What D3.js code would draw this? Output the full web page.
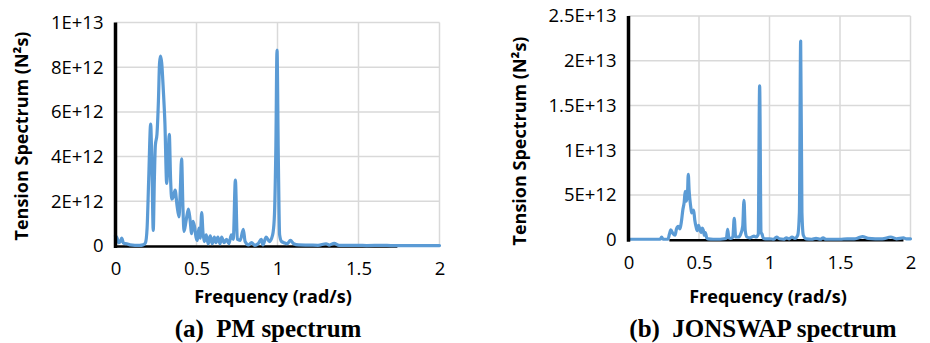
<!DOCTYPE html>
<html><head><meta charset="utf-8">
<script src="https://cdn.jsdelivr.net/npm/d3@7"></script>
<style>
body{margin:0;background:#fff;}
svg{display:block;}
.tick text{font-family:"Open Sans",sans-serif;}
</style></head>
<body>
<svg id="chart" width="930" height="343"></svg>
<script>
// ---- data (values in units of 1E+12 N²s) ----
const pmFreq = [0,0.01,0.02,0.03,0.038,0.05,0.07,0.09,0.12,0.15,0.17,0.185,0.195,0.205,0.217,0.225,0.233,0.24,0.246,0.256,0.265,0.272,0.278,0.285,0.295,0.305,0.316,0.324,0.332,0.34,0.347,0.357,0.368,0.38,0.392,0.4,0.408,0.416,0.423,0.435,0.45,0.46,0.47,0.478,0.487,0.497,0.505,0.515,0.523,0.532,0.54,0.548,0.56,0.572,0.585,0.597,0.61,0.62,0.632,0.645,0.655,0.67,0.685,0.7,0.715,0.727,0.74,0.752,0.77,0.789,0.8,0.82,0.84,0.86,0.88,0.9,0.91,0.93,0.95,0.97,0.98,0.99,0.997,1.005,1.013,1.025,1.04,1.06,1.08,1.1,1.13,1.2,1.25,1.3,1.32,1.35,1.38,1.45,1.5,1.55,1.65,1.7,1.8,2.0];
const pmValue = [0.45,0.35,0.15,0.2,0.35,0.12,0.1,0.05,0.03,0.03,0.05,0.15,0.8,3.0,5.45,3.5,0.7,3.0,4.5,5.0,6.5,8.2,8.5,8.2,7.0,5.5,2.8,3.8,5.0,3.0,2.1,2.2,2.5,1.8,1.3,2.5,3.9,1.8,0.65,1.1,1.65,1.2,0.55,1.1,0.9,0.4,0.25,0.8,0.35,1.5,0.6,0.2,0.5,0.1,0.45,0.1,0.4,0.15,0.4,0.1,0.4,0.15,0.3,0.1,0.5,0.3,2.95,0.3,0.25,0.75,0.2,0.05,0.15,0.03,0.1,0.3,0.05,0.4,0.2,0.5,1.2,4.5,8.77,4.0,0.5,0.2,0.15,0.1,0.25,0.1,0.05,0.04,0.03,0.1,0.04,0.12,0.03,0.03,0.03,0.02,0.03,0.02,0.02,0.02];

const jsFreq = [0,0.1,0.2,0.225,0.235,0.245,0.28,0.29,0.3,0.315,0.33,0.34,0.353,0.365,0.375,0.385,0.395,0.402,0.41,0.418,0.424,0.43,0.436,0.442,0.448,0.455,0.462,0.47,0.479,0.488,0.497,0.505,0.515,0.523,0.53,0.538,0.545,0.555,0.565,0.6,0.65,0.68,0.695,0.703,0.712,0.725,0.74,0.75,0.76,0.78,0.795,0.81,0.819,0.828,0.84,0.86,0.875,0.89,0.905,0.92,0.93,0.94,0.948,0.955,0.97,1.0,1.03,1.05,1.07,1.1,1.12,1.14,1.16,1.18,1.2,1.212,1.221,1.23,1.24,1.26,1.3,1.33,1.36,1.38,1.4,1.5,1.55,1.6,1.63,1.66,1.7,1.75,1.8,1.86,1.9,1.95,1.97,2.0];
const jsValue = [0.05,0.05,0.05,0.05,0.3,0.05,0.05,0.6,1.1,0.7,0.5,1.2,1.5,1.2,2.0,3.3,4.2,5.4,4.3,5.0,7.3,5.5,4.4,3.6,3.0,3.2,3.3,2.2,1.45,1.0,1.6,1.2,0.8,1.3,1.1,0.5,0.8,0.2,0.1,0.05,0.05,0.1,0.2,1.15,0.2,0.15,0.3,2.4,0.3,0.3,0.6,1.5,4.4,1.0,0.3,0.2,0.3,0.4,0.3,0.6,17.2,0.8,0.6,0.2,0.1,0.1,0.05,0.3,0.1,0.05,0.2,0.1,0.3,0.15,0.5,3.0,22.2,3.0,0.5,0.1,0.05,0.15,0.05,0.2,0.05,0.05,0.1,0.1,0.2,0.35,0.15,0.1,0.1,0.3,0.1,0.2,0.1,0.1];

// black baseline series (zero values)
const pmBaseFreq = [0, 1.74];
const jsBaseFreq = [0.29, 1.95];

const xTicks = [0, 0.5, 1, 1.5, 2];
const xTickLabels = ["0", "0.5", "1", "1.5", "2"];
const pmYTicks = [0, 2, 4, 6, 8, 10];
const pmYTickLabels = ["0", "2E+12", "4E+12", "6E+12", "8E+12", "1E+13"];
const jsYTicks = [0, 5, 10, 15, 20, 25];
const jsYTickLabels = ["0", "5E+12", "1E+13", "1.5E+13", "2E+13", "2.5E+13"];

const xTitle = "Frequency (rad/s)";
const yTitle = "Tension Spectrum (N²s)";
const captions = ["(a)  PM spectrum", "(b)  JONSWAP spectrum"];

const svg = d3.select("#chart");
const BLUE = "#5b9bd5";
const TICK_FS = 18.5, TITLE_FS = 18, CAP_FS = 25;

function panel(cfg) {
  const x = d3.scaleLinear().domain([0, 2]).range([cfg.x0, cfg.x1]);
  const y = d3.scaleLinear().domain([0, cfg.yMax]).range([cfg.y0, cfg.y1]);
  const g = svg.append("g");

  // gridlines
  g.append("g").selectAll("line.h").data(cfg.yTicks.slice(1)).join("line")
    .attr("x1", x(0)).attr("x2", x(2)).attr("y1", d => y(d)).attr("y2", d => y(d))
    .attr("stroke", "#d9d9d9").attr("stroke-width", 1.5);
  g.append("g").selectAll("line.v").data(xTicks.slice(1)).join("line")
    .attr("x1", d => x(d)).attr("x2", d => x(d)).attr("y1", y(0)).attr("y2", y(cfg.yMax))
    .attr("stroke", "#d9d9d9").attr("stroke-width", 1.5);

  // axes (labels only)
  const xa = g.append("g").attr("transform", `translate(0,${cfg.y0})`)
    .call(d3.axisBottom(x).tickValues(xTicks).tickFormat((d, i) => xTickLabels[i]).tickSize(0).tickPadding(cfg.xPad));
  xa.select(".domain").remove();
  xa.selectAll("text").attr("font-size", TICK_FS).attr("fill", "#000");
  const ya = g.append("g").attr("transform", `translate(${cfg.x0},0)`)
    .call(d3.axisLeft(y).tickValues(cfg.yTicks).tickFormat((d, i) => cfg.yLabels[i]).tickSize(0).tickPadding(12));
  ya.select(".domain").remove();
  ya.selectAll("text").attr("font-size", TICK_FS).attr("fill", "#000");

  // black baseline series
  g.append("path").datum(cfg.baseFreq)
    .attr("d", d3.line().x(d => x(d)).y(() => y(0) + 0.5))
    .attr("stroke", "#000").attr("stroke-width", 2.5).attr("fill", "none");

  // data line
  const pts = cfg.freq.map((f, i) => [f, cfg.val[i]]);
  g.append("path").datum(pts)
    .attr("d", d3.line().x(d => x(d[0])).y(d => y(d[1])).curve(d3.curveMonotoneX))
    .attr("stroke", BLUE).attr("stroke-width", 3.2).attr("fill", "none")
    .attr("stroke-linejoin", "round").attr("stroke-linecap", "round");

  // vertical y-axis line (thick black)
  g.append("line").attr("x1", x(0)).attr("x2", x(0)).attr("y1", y(cfg.yMax)).attr("y2", y(0) + 2)
    .attr("stroke", "#000").attr("stroke-width", 3.5);

  // titles
  g.append("text").attr("x", cfg.xTitleX).attr("y", 303).attr("text-anchor", "middle")
    .attr("font-family", "'Open Sans',sans-serif").attr("font-weight", "bold").attr("font-size", TITLE_FS)
    .text(xTitle);
  g.append("text").attr("transform", `translate(${cfg.yTitleX},${cfg.yTitleY}) rotate(-90)`)
    .attr("text-anchor", "middle")
    .attr("font-family", "'Open Sans',sans-serif").attr("font-weight", "bold").attr("font-size", TITLE_FS)
    .text(yTitle);
  g.append("text").attr("x", cfg.capX).attr("y", 337).attr("text-anchor", "middle")
    .attr("font-family", "'Liberation Serif','Times New Roman',serif").attr("font-weight", "bold").attr("font-size", CAP_FS)
    .style("white-space", "pre")
    .text(cfg.caption);
}

panel({x0: 115.5, x1: 439.5, y0: 246, y1: 22.5, yMax: 10, yTicks: pmYTicks, yLabels: pmYTickLabels,
  freq: pmFreq, val: pmValue, baseFreq: pmBaseFreq, xPad: 16, xTitleX: 273, yTitleX: 28, yTitleY: 136,
  capX: 268, caption: captions[0]});
panel({x0: 628.5, x1: 910.5, y0: 239.7, y1: 16, yMax: 25, yTicks: jsYTicks, yLabels: jsYTickLabels,
  freq: jsFreq, val: jsValue, baseFreq: jsBaseFreq, xPad: 16, xTitleX: 768, yTitleX: 526, yTitleY: 141,
  capX: 763, caption: captions[1]});
</script>
</body></html>
